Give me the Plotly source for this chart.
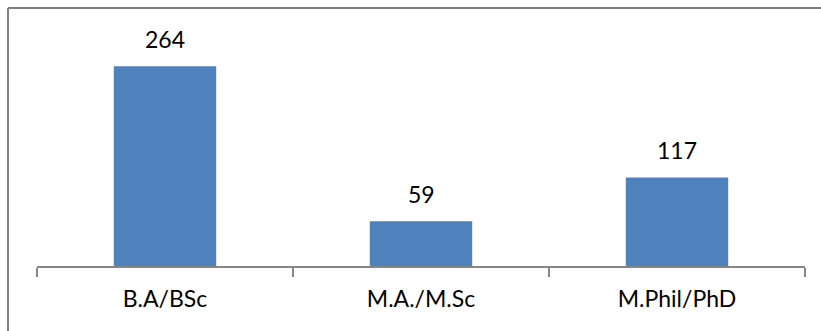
import plotly.graph_objects as go

categories = ["B.A/BSc", "M.A./M.Sc", "M.Phil/PhD"]
counts = [264, 59, 117]

BAR_COLOR = "#4F81BD"
AXIS_GRAY = "#868686"
FONT = "Lato, 'Open Sans', sans-serif"
FONT_SIZE = 23

W, H = 821, 331
ML, MR, MT, MB = 37, 16, 20, 65
plot_w = W - ML - MR
plot_h = H - MT - MB


def px_to_paper_x(px):
    return (px - ML) / plot_w


def px_to_paper_y(py):
    return (H - MB - py) / plot_h


fig = go.Figure(
    go.Bar(
        x=categories,
        y=counts,
        marker=dict(color=BAR_COLOR, line=dict(width=0)),
        width=0.4,
        hoverinfo="x+y",
    )
)

# value labels above each bar
for cat, val in zip(categories, counts):
    fig.add_annotation(
        x=cat, y=val, text=str(val), showarrow=False,
        yanchor="bottom", yshift=11,
        font=dict(family=FONT, size=FONT_SIZE, color="#000000"),
    )

# chart frame (left and top edges)
left = px_to_paper_x(8)
top = px_to_paper_y(8)
fig.add_shape(type="line", xref="paper", yref="paper",
              x0=left, x1=left, y0=px_to_paper_y(H + 5), y1=top,
              line=dict(color="#7F7F7F", width=2))
fig.add_shape(type="line", xref="paper", yref="paper",
              x0=left, x1=px_to_paper_x(W + 5), y0=top, y1=top,
              line=dict(color="#7F7F7F", width=2))

fig.update_layout(
    width=W, height=H,
    margin=dict(l=ML, r=MR, t=MT, b=MB),
    paper_bgcolor="white", plot_bgcolor="white",
    showlegend=False,
    font=dict(family=FONT, size=FONT_SIZE, color="#000000"),
    xaxis=dict(
        showline=True, linecolor=AXIS_GRAY, linewidth=1.5,
        ticks="outside", tickson="boundaries", ticklen=9,
        tickcolor=AXIS_GRAY, tickwidth=1.5,
        ticklabelstandoff=12,
        showgrid=False, zeroline=False,
        tickfont=dict(family=FONT, size=FONT_SIZE, color="#000000"),
    ),
    yaxis=dict(
        range=[0, 325], visible=False, showgrid=False, zeroline=False,
    ),
)

fig.write_html("out.html")
